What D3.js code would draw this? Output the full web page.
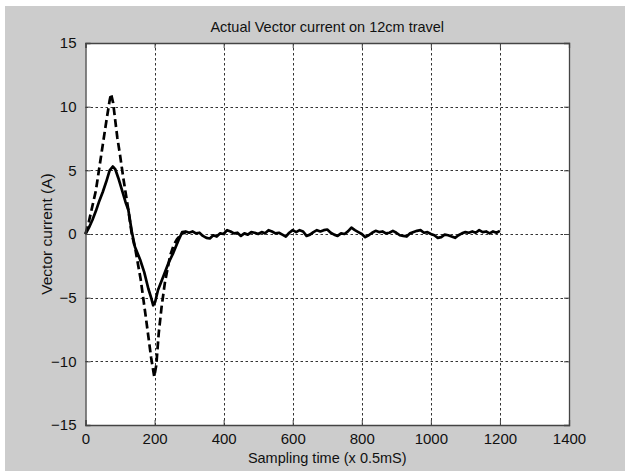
<!DOCTYPE html>
<html>
<head>
<meta charset="utf-8">
<script src="https://cdn.jsdelivr.net/npm/d3@7"></script>
<style>
  html, body { margin: 0; padding: 0; background: #fff; }
  svg { display: block; }
  text { font-family: "Liberation Sans", Arial, sans-serif; fill: #111; }
</style>
</head>
<body>
<div id="chart"></div>
<script>
// sampling index (x 0.5 ms) and the two current traces
const timeRef = [0, 10, 20, 30, 40, 50, 60, 70, 74, 80, 92, 100, 110, 124, 134, 145, 160, 175, 190, 199, 205, 212, 220, 230, 245, 255, 265, 280, 290];
const currentRef = [0, 1.0, 2.2, 3.4, 5.2, 7.0, 8.8, 10.5, 11.0, 10.3, 7.6, 6.2, 4.3, 1.9, 0, -1.3, -3.6, -6.6, -9.7, -11.2, -10.3, -7.8, -5.8, -3.8, -1.7, -0.9, -0.4, 0.05, 0.1];

const timeAct = [0, 10, 20, 30, 40, 50, 60, 70, 79, 86, 95, 105, 116, 124, 134, 143, 158, 170, 182, 190, 196, 202, 210, 225, 240, 254, 269,
  280, 290, 300, 310, 320, 330, 340, 350, 360, 370, 380, 390, 400, 410, 420, 430, 440, 450, 460, 470, 480, 490,
  500, 510, 520, 530, 540, 550, 560, 570, 580, 590, 600, 610, 620, 630, 640, 650, 660, 670, 680, 690,
  700, 710, 720, 730, 740, 750, 760, 770, 780, 790, 800, 810, 820, 830, 840, 850, 860, 870, 880, 890,
  900, 910, 920, 930, 940, 950, 960, 970, 980, 990, 1000, 1010, 1020, 1030, 1040, 1050, 1060, 1070, 1080, 1090,
  1100, 1110, 1120, 1130, 1140, 1150, 1160, 1170, 1180, 1190, 1200];
const currentAct = [0, 0.5, 1.1, 1.8, 2.6, 3.3, 4.1, 5.0, 5.3, 5.1, 4.4, 3.5, 2.5, 1.9, 0.2, -1.0, -2.0, -3.0, -4.3, -5.0, -5.6, -5.3, -4.4, -3.35, -2.3, -1.5, -0.5,
  0.15, 0.2, 0.1, 0.2, 0.05, 0.1, -0.15, -0.3, -0.35, -0.1, -0.2, 0.05, 0.0, 0.3, 0.2, 0.05, 0.1, -0.15, 0.05, -0.05, 0.15, 0.1,
  0.0, 0.15, 0.05, 0.3, 0.2, 0.05, 0.1, -0.05, -0.2, 0.1, 0.3, 0.15, 0.3, 0.2, -0.15, -0.05, 0.15, 0.3, 0.2, 0.3,
  0.35, 0.1, -0.05, -0.15, 0.05, 0.0, 0.2, 0.5, 0.3, 0.15, 0.0, -0.25, -0.1, 0.1, 0.25, 0.15, 0.2, 0.05, 0.1, 0.25,
  0.1, -0.1, -0.15, -0.2, 0.05, 0.15, 0.25, 0.3, 0.1, 0.15, 0.0, -0.1, -0.3, -0.25, -0.05, -0.1, -0.2, -0.3, -0.1, 0.05,
  0.15, 0.1, 0.2, 0.1, 0.3, 0.15, 0.2, 0.05, 0.2, 0.1, 0.25];

const xTicks = [0, 200, 400, 600, 800, 1000, 1200, 1400];
const yTicks = [-15, -10, -5, 0, 5, 10, 15];

const width = 625, height = 471;
const plotLeft = 85.5, plotRight = 569, plotTop = 43, plotBottom = 425;

const svg = d3.select("#chart").append("svg")
  .attr("width", width)
  .attr("height", height);

// figure background (gray, thin white strip at top/left)
svg.append("rect")
  .attr("x", 5).attr("y", 6)
  .attr("width", width - 5).attr("height", height - 6)
  .attr("fill", "#cccccc");

const x = d3.scaleLinear().domain([0, 1400]).range([plotLeft, plotRight]);
const y = d3.scaleLinear().domain([-15, 15]).range([plotBottom, plotTop]);

svg.append("rect")
  .attr("x", plotLeft).attr("y", plotTop)
  .attr("width", plotRight - plotLeft).attr("height", plotBottom - plotTop)
  .attr("fill", "#fff");

// grid
const grid = svg.append("g").attr("stroke", "#333").attr("stroke-width", 1).attr("stroke-dasharray", "2.5,2.5");
grid.selectAll(".gx").data(xTicks.slice(1, -1)).enter().append("line")
  .attr("x1", d => Math.round(x(d)) + 0.5).attr("x2", d => Math.round(x(d)) + 0.5)
  .attr("y1", plotTop).attr("y2", plotBottom);
grid.selectAll(".gy").data(yTicks.slice(1, -1)).enter().append("line")
  .attr("y1", d => Math.round(y(d)) + 0.5).attr("y2", d => Math.round(y(d)) + 0.5)
  .attr("x1", plotLeft).attr("x2", plotRight);

// traces
const line = (ts, vs) => d3.line().x((d, i) => x(ts[i])).y(d => y(d))(vs);

svg.append("path")
  .attr("d", line(timeRef, currentRef))
  .attr("fill", "none").attr("stroke", "#000")
  .attr("stroke-width", 2.7)
  .attr("stroke-dasharray", "8,4")
  .attr("stroke-linejoin", "round");

svg.append("path")
  .attr("d", line(timeAct, currentAct))
  .attr("fill", "none").attr("stroke", "#000")
  .attr("stroke-width", 2.7)
  .attr("stroke-linejoin", "round");

// axes (ticks inward, MATLAB style)
const xAxis = d3.axisBottom(x).tickValues(xTicks).tickSize(-5).tickPadding(8).tickFormat(d3.format("d"));
const yAxis = d3.axisLeft(y).tickValues(yTicks).tickSize(-5).tickPadding(9).tickFormat(d3.format("d"));

const gx = svg.append("g").attr("transform", `translate(0,${plotBottom})`).call(xAxis);
const gy = svg.append("g").attr("transform", `translate(${plotLeft},0)`).call(yAxis);
const gxTop = svg.append("g").attr("transform", `translate(0,${plotTop})`)
  .call(d3.axisTop(x).tickValues(xTicks).tickSize(-5).tickFormat(""));
const gyRight = svg.append("g").attr("transform", `translate(${plotRight},0)`)
  .call(d3.axisRight(y).tickValues(yTicks).tickSize(-5).tickFormat(""));

[gx, gy, gxTop, gyRight].forEach(g => {
  g.selectAll(".domain").attr("stroke", "#444").attr("stroke-width", 1.3);
  g.selectAll(".tick line").attr("stroke", "#444");
  g.selectAll(".tick text").attr("font-size", 15).attr("fill", "#111")
    .attr("font-family", "'Liberation Sans', Arial, sans-serif");
});
gx.selectAll(".tick text").attr("dy", "0.72em");

// labels
svg.append("text")
  .attr("x", (plotLeft + plotRight) / 2).attr("y", 32)
  .attr("text-anchor", "middle").attr("font-size", 14.5)
  .text("Actual Vector current on 12cm travel");

svg.append("text")
  .attr("x", (plotLeft + plotRight) / 2).attr("y", 463)
  .attr("text-anchor", "middle").attr("font-size", 14.5)
  .text("Sampling time (x 0.5mS)");

svg.append("text")
  .attr("transform", `translate(52,${(plotTop + plotBottom) / 2}) rotate(-90)`)
  .attr("text-anchor", "middle").attr("font-size", 15.5)
  .text("Vector current (A)");
</script>
</body>
</html>
